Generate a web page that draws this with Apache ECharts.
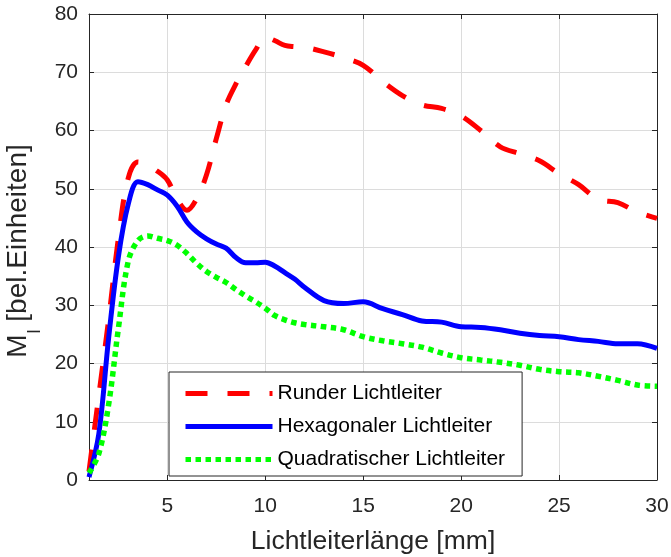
<!DOCTYPE html>
<html>
<head>
<meta charset="utf-8">
<script src="https://cdn.jsdelivr.net/npm/echarts@6/dist/echarts.min.js"></script>
<style>
  html, body { margin: 0; padding: 0; background: #ffffff; }
  #chart { width: 671px; height: 557px; }
</style>
</head>
<body>
<div id="chart"></div>
<script>
// Fibre length in mm (shared sample positions)
const lengthMm = [1, 1.5, 2, 2.5, 3, 3.5, 4, 4.5, 5, 5.5, 6, 6.5, 7, 7.5, 8, 8.5, 9, 9.5, 10, 10.5,
  11, 11.5, 12, 13, 14, 15, 16, 17, 18, 19, 20, 21, 22, 23, 24, 25, 26, 27, 28, 29, 30];

// M_l in arbitrary units for each light guide cross-section
const runder = [1.5, 14.5, 27.5, 41.5, 51.8, 54.6, 54.0, 53.0, 51.5, 48.2, 46.3, 48.3, 52.4, 58.6, 64.4, 68.0,
  71.0, 73.8, 76.0, 75.4, 74.6, 74.4, 74.3, 73.5, 72.5, 71.2, 68.4, 66.0, 64.4, 63.8, 62.5, 60.0,
  57.2, 56.0, 54.8, 52.6, 50.7, 48.2, 47.6, 46.0, 44.9];
const hexagonal = [0.5, 7.9, 24.3, 38.3, 47.3, 51.2, 50.7, 49.8, 48.9, 47.0, 44.3, 42.6, 41.4, 40.5, 39.8, 38.2,
  37.3, 37.3, 37.4, 36.7, 35.6, 34.5, 33.1, 30.8, 30.3, 30.6, 29.4, 28.4, 27.3, 27.1, 26.3, 26.2,
  25.8, 25.2, 24.8, 24.6, 24.1, 23.8, 23.4, 23.4, 22.6];
const quadratisch = [1.2, 4.5, 12.9, 26.0, 37.5, 41.1, 41.9, 41.5, 41.1, 40.3, 38.9, 37.2, 35.8, 34.8, 33.9, 32.7,
  31.6, 30.6, 29.5, 28.2, 27.5, 27.0, 26.7, 26.3, 25.8, 24.6, 23.9, 23.4, 22.8, 21.8, 21.0, 20.6,
  20.2, 19.7, 19.0, 18.6, 18.4, 17.8, 17.1, 16.3, 16.1];

// Axis ticks
const xTicks = [5, 10, 15, 20, 25, 30];
const yTicks = [0, 10, 20, 30, 40, 50, 60, 70, 80];

const seriesNames = ['Runder Lichtleiter', 'Hexagonaler Lichtleiter', 'Quadratischer Lichtleiter'];

const pairs = (ys) => lengthMm.map((x, i) => [x, ys[i]]);

const axisColor = '#262626';
const gridColor = '#dcdcdc';
const fontFamily = '"Liberation Sans", Arial, Helvetica, sans-serif';

const chart = echarts.init(document.getElementById('chart'), null, { renderer: 'canvas' });

const baseX = {
  type: 'value',
  min: 1,
  max: 30,
  axisLine: { show: true, onZero: false, lineStyle: { color: axisColor, width: 1 } },
  axisTick: { show: true, inside: true, length: 5, customValues: xTicks, lineStyle: { color: axisColor } },
};
const baseY = {
  type: 'value',
  min: yTicks[0],
  max: yTicks[yTicks.length - 1],
  interval: 10,
  axisLine: { show: true, onZero: false, lineStyle: { color: axisColor, width: 1 } },
  axisTick: { show: true, inside: true, length: 5, lineStyle: { color: axisColor } },
};

chart.setOption({
  backgroundColor: '#ffffff',
  animation: false,
  textStyle: { fontFamily: fontFamily },
  grid: { left: 89, top: 14, width: 568, height: 466, containLabel: false, outerBoundsMode: 'none' },
  xAxis: [
    Object.assign({}, baseX, {
      position: 'bottom',
      name: 'Lichtleiterlänge [mm]',
      nameLocation: 'middle',
      nameGap: 48,
      nameTextStyle: { fontSize: 26.5, color: axisColor, fontFamily: fontFamily },
      axisLabel: { show: true, customValues: xTicks, margin: 16, fontSize: 21, color: axisColor, fontFamily: fontFamily },
      splitLine: { show: true, lineStyle: { color: gridColor, width: 1 } },
    }),
    Object.assign({}, baseX, {
      position: 'top',
      axisLabel: { show: false },
      splitLine: { show: false },
    }),
  ],
  yAxis: [
    Object.assign({}, baseY, {
      position: 'left',
      name: '{a|M}{s|l}{a| [bel.Einheiten]}',
      nameLocation: 'middle',
      nameGap: 52,
      nameRotate: 90,
      nameTextStyle: {
        color: axisColor,
        fontFamily: fontFamily,
        padding: [0, 8, 0, 0],
        rich: {
          a: { fontSize: 28, color: axisColor, fontFamily: fontFamily, lineHeight: 32 },
          s: { fontSize: 18, color: axisColor, fontFamily: fontFamily, lineHeight: 32, verticalAlign: 'bottom', padding: [0, 0, -9, 1] },
        },
      },
      axisLabel: { show: true, margin: 11, fontSize: 21, color: axisColor, fontFamily: fontFamily },
      splitLine: { show: true, lineStyle: { color: gridColor, width: 1 } },
    }),
    Object.assign({}, baseY, {
      position: 'right',
      axisLabel: { show: false },
      splitLine: { show: false },
    }),
  ],
  legend: {
    data: seriesNames,
    orient: 'vertical',
    left: 169,
    top: 372,
    padding: [11, 17, 6, 14],
    itemGap: 12,
    itemWidth: 87,
    itemHeight: 20,
    itemStyle: { opacity: 0 },
    lineStyle: { width: 5 },
    backgroundColor: '#ffffff',
    borderColor: axisColor,
    borderWidth: 1,
    borderRadius: 0,
    textStyle: { fontSize: 21, lineHeight: 20, color: '#000000', fontFamily: fontFamily },
  },
  series: [
    {
      name: seriesNames[0],
      type: 'line',
      data: pairs(runder),
      smooth: 0.35,
      symbol: 'none',
      lineStyle: { color: '#ff0000', width: 5, type: [22, 20], cap: 'butt' },
      itemStyle: { color: '#ff0000' },
      z: 3,
    },
    {
      name: seriesNames[1],
      type: 'line',
      data: pairs(hexagonal),
      smooth: 0.35,
      symbol: 'none',
      lineStyle: { color: '#0000ff', width: 5, type: 'solid' },
      itemStyle: { color: '#0000ff' },
      z: 3,
    },
    {
      name: seriesNames[2],
      type: 'line',
      data: pairs(quadratisch),
      smooth: 0.35,
      symbol: 'none',
      lineStyle: { color: '#00ff00', width: 5.5, type: [5.5, 4.5], cap: 'butt' },
      itemStyle: { color: '#00ff00' },
      z: 3,
    },
  ],
});
</script>
</body>
</html>
